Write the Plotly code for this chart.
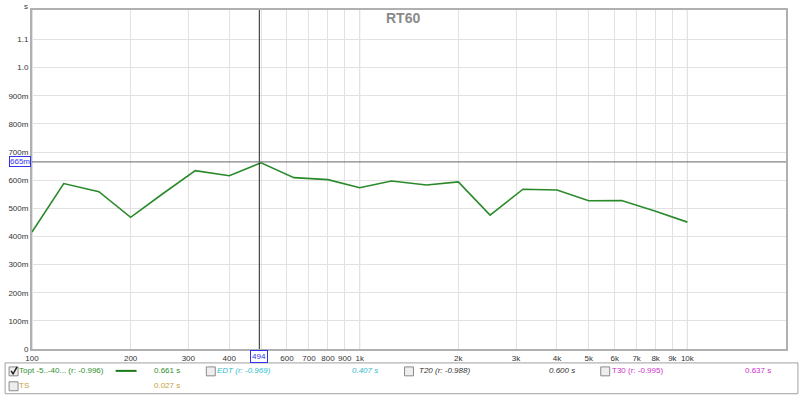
import math
import plotly.graph_objects as go

# ---- data ----
freqs = [100, 125, 160, 200, 250, 315, 400, 500, 630, 800, 1000, 1250, 1600,
         2000, 2500, 3150, 4000, 5000, 6300, 8000, 10000]
rt60 = [0.416, 0.588, 0.559, 0.468, 0.551, 0.634, 0.616, 0.662, 0.609, 0.602,
        0.573, 0.597, 0.583, 0.594, 0.476, 0.568, 0.565, 0.527, 0.528, 0.490, 0.451]

x_tick_vals = [100, 200, 300, 400, 500, 600, 700, 800, 900, 1000, 2000, 3000, 4000,
               5000, 6000, 7000, 8000, 9000, 10000, 20000]
x_tick_text = ["100", "200", "300", "400", "", "600", "700", "800", "900", "1k", "2k",
               "3k", "4k", "5k", "6k", "7k", "8k", "9k", "10k", "20.0k Hz"]
y_tick_vals = [0, 0.1, 0.2, 0.3, 0.4, 0.5, 0.6, 0.7, 0.8, 0.9, 1.0, 1.1]
y_tick_text = ["0", "100m", "200m", "300m", "400m", "500m", "600m", "700m", "800m",
               "900m", "1.0", "1.1"]
decades = [100, 1000, 10000]
cursor_x = 494
cursor_y = 0.665

legend_items = [
    # label, value, colour, italic, checked
    ("Topt -5..-40... (r: -0.996)", "0.661 s", "#2f8f2f", False, True),
    ("EDT (r: -0.969)", "0.407 s", "#33bbcc", True, False),
    ("T20 (r: -0.988)", "0.600 s", "#333333", True, False),
    ("T30 (r: -0.995)", "0.637 s", "#cc33cc", False, False),
    ("TS", "0.027 s", "#c8a040", False, False),
]

W, H = 800, 396
L, R, T, B = 29, 786, 8, 349
FONT = "Liberation Sans"


def px(x):
    return (x - L) / (R - L)


def py(y):
    return (B - y) / (B - T)


fig = go.Figure()
fig.add_trace(go.Scatter(x=freqs, y=rt60, mode="lines",
                         line=dict(color="#2a8a2a", width=1.6),
                         hoverinfo="skip", showlegend=False))

shapes = []
annotations = []

# darker decade grid lines
for d in decades:
    shapes.append(dict(type="line", xref="x", yref="paper", x0=d, x1=d, y0=0, y1=1,
                       line=dict(color="#c4c4c4", width=1), layer="below"))
# cursors
shapes.append(dict(type="line", xref="x", yref="paper", x0=cursor_x, x1=cursor_x,
                   y0=0, y1=1, line=dict(color="#222222", width=1)))
shapes.append(dict(type="line", xref="paper", yref="y", x0=0, x1=1,
                   y0=cursor_y, y1=cursor_y, line=dict(color="#666666", width=1)))

annotations.append(dict(xref="paper", yref="y", x=px(28), y=cursor_y, text="665m",
                        showarrow=False, xanchor="right", yanchor="middle",
                        font=dict(family=FONT, size=8, color="#3333ee"),
                        bordercolor="#3333ee", borderwidth=1, borderpad=0,
                        bgcolor="white"))
annotations.append(dict(xref="x", yref="paper", x=math.log10(cursor_x), y=py(350),
                        text="494", showarrow=False, xanchor="center", yanchor="top",
                        font=dict(family=FONT, size=8, color="#3333ee"),
                        bordercolor="#3333ee", borderwidth=1, borderpad=1,
                        bgcolor="white"))
# title and unit
annotations.append(dict(xref="paper", yref="paper", x=px(401), y=py(16), text="<b>RT60</b>",
                        showarrow=False, xanchor="center", yanchor="middle",
                        font=dict(family=FONT, size=14, color="#8a8a8a")))
annotations.append(dict(xref="paper", yref="paper", x=px(23), y=py(4), text="s",
                        showarrow=False, xanchor="center", yanchor="middle",
                        font=dict(family=FONT, size=8, color="#333333")))

# legend box
shapes.append(dict(type="rect", xref="paper", yref="paper", x0=px(2), x1=px(798),
                   y0=py(394), y1=py(363), line=dict(color="#a0a0a0", width=1),
                   fillcolor="white"))

positions = [  # checkbox x, label x, value x, row y
    (5, 18, 153, 371),
    (203, 217, 352, 371),
    (402, 420, 550, 371),
    (599, 613, 747, 371),
    (5, 18, 153, 386),
]
SHIFT = 4  # annotation inner padding compensation
for (label, value, col, ital, checked), (cx, lx, vx, ry) in zip(legend_items, positions):
    shapes.append(dict(type="rect", xref="paper", yref="paper", x0=px(cx + 1), x1=px(cx + 10),
                       y0=py(ry + 5), y1=py(ry - 4), line=dict(color="#8a8a8a", width=1),
                       fillcolor="#eeeeee"))
    if checked:
        shapes.append(dict(type="path", xref="paper", yref="paper",
                           path=f"M {px(cx+3)} {py(ry)} L {px(cx+5)} {py(ry+3)} L {px(cx+9)} {py(ry-4)}",
                           line=dict(color="#222222", width=1.5)))
    t = f"<i>{label}</i>" if ital else label
    v = f"<i>{value}</i>" if ital else value
    annotations.append(dict(xref="paper", yref="paper", x=px(lx - SHIFT), y=py(ry), text=t,
                            showarrow=False, xanchor="left", yanchor="middle",
                            font=dict(family=FONT, size=8, color=col)))
    annotations.append(dict(xref="paper", yref="paper", x=px(vx - SHIFT), y=py(ry), text=v,
                            showarrow=False, xanchor="left", yanchor="middle",
                            font=dict(family=FONT, size=8, color=col)))
# legend line sample
shapes.append(dict(type="line", xref="paper", yref="paper", x0=px(113), x1=px(134),
                   y0=py(371), y1=py(371), line=dict(color="#1a7a1a", width=2)))

fig.update_layout(
    width=W, height=H, autosize=False,
    margin=dict(l=L, r=W - R, t=T, b=H - B),
    paper_bgcolor="white", plot_bgcolor="white",
    font=dict(family=FONT, size=8, color="#333333"),
    shapes=shapes, annotations=annotations,
    showlegend=False,
    xaxis=dict(type="log", range=[2, 4.30103], tickvals=x_tick_vals, ticktext=x_tick_text,
               showgrid=True, gridcolor="#e2e2e2", gridwidth=1, zeroline=False,
               showline=True, linecolor="#b0b0b0", linewidth=2, mirror=True,
               ticks="", ticklen=0, tickfont=dict(family=FONT, size=8, color="#333333"),
               tickangle=0),
    yaxis=dict(range=[0, 1.205], tickvals=y_tick_vals, ticktext=y_tick_text,
               showgrid=True, gridcolor="#e2e2e2", gridwidth=1, zeroline=False,
               showline=True, linecolor="#b0b0b0", linewidth=2, mirror=True,
               ticks="", ticklen=0, tickfont=dict(family=FONT, size=8, color="#333333")),
)

fig.write_html("out.html")
